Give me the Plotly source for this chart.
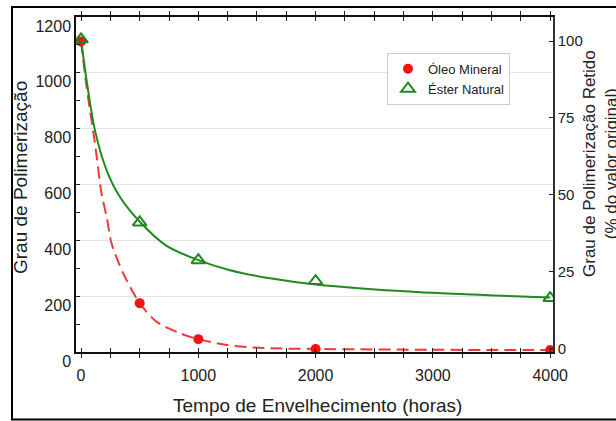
import plotly.graph_objects as go

# ---- data ----
hours = [0, 500, 1000, 2000, 4000]
oleo_mineral = [1112, 175, 46, 11, 7]
ester_natural = [1120, 464, 329, 254, 193]

# fitted curves as traced on the picture
oleo_curve_x = [0, 48, 119, 176, 219, 261, 361, 500, 645, 844, 1000, 1242, 1555, 2000, 3000, 4000]
oleo_curve_y = [1112, 948, 746, 565, 483, 388, 281, 175, 108, 67, 46, 25, 14, 11, 8, 7]
ester_curve_x = [0, 48, 119, 219, 332, 489, 730, 1000, 1270, 1611, 2000, 2862, 4000]
ester_curve_y = [1120, 971, 793, 650, 555, 472, 380, 329, 293, 264, 242, 215, 195]

x_ticks = [0, 250, 500, 750, 1000, 1250, 1500, 1750, 2000, 2250, 2500, 2750, 3000, 3250, 3500, 3750, 4000]
x_ticktext = ["0", "", "", "", "1000", "", "", "", "2000", "", "", "", "3000", "", "", "", "4000"]
y_ticks = [0, 200, 400, 600, 800, 1000, 1200]
y2_ticks = [0, 25, 50, 75, 100]

RED = "#f01414"
RED_LINE = "#ee3a3a"
GREEN = "#1f8a1f"
FONT = "Liberation Sans"
TXT = "#222222"

fig = go.Figure()
fig.add_trace(go.Scatter(x=oleo_curve_x, y=oleo_curve_y, mode="lines",
                         line=dict(color=RED_LINE, width=2, dash="12px,6px", shape="spline", smoothing=0.8),
                         showlegend=False, hoverinfo="skip"))
fig.add_trace(go.Scatter(x=ester_curve_x, y=ester_curve_y, mode="lines",
                         line=dict(color=GREEN, width=2, shape="spline", smoothing=0.8),
                         showlegend=False, hoverinfo="skip"))
fig.add_trace(go.Scatter(x=hours, y=oleo_mineral, mode="markers", name="Óleo Mineral",
                         marker=dict(color=RED, size=10, symbol="circle")))
fig.add_trace(go.Scatter(x=hours, y=ester_natural, mode="markers", name="Éster Natural",
                         marker=dict(color=GREEN, size=12, symbol="triangle-up-open",
                                     line=dict(color=GREEN, width=2))))
# invisible trace to activate right axis
fig.add_trace(go.Scatter(x=[hours[0]], y=[100], yaxis="y2", mode="markers",
                         marker=dict(opacity=0), showlegend=False, hoverinfo="skip"))

fig.update_layout(
    width=616, height=421,
    margin=dict(l=76, r=63, t=17, b=69, autoexpand=False),
    paper_bgcolor="white", plot_bgcolor="white",
    font=dict(family=FONT, color=TXT, size=16),
    xaxis=dict(range=[-43, 4024], tickvals=x_ticks, ticktext=x_ticktext,
               ticks="inside", ticklen=4, tickwidth=1.2, tickcolor="#222",
               showline=True, linecolor="#111", linewidth=1.5, mirror="allticks",
               showgrid=False, zeroline=False, tickfont=dict(size=16),
               ticklabelstandoff=8),
    yaxis=dict(range=[0, 1200], tickvals=y_ticks, ticks="inside", ticklen=4,
               tickwidth=1.2, tickcolor="#222",
               showline=True, linecolor="#111", linewidth=1.5,
               showgrid=True, gridcolor="#e4e4e4", gridwidth=1, zeroline=False,
               tickfont=dict(size=16), ticklabelshift=9,
               minor=dict(dtick=100, ticks="inside", ticklen=4, tickcolor="#222", showgrid=False)),
    yaxis2=dict(overlaying="y", side="right", range=[-1.0, 107.8], tickvals=y2_ticks,
                ticks="inside", ticklen=4, tickcolor="#222",
                showline=True, linecolor="#333", linewidth=1.5,
                showgrid=False, zeroline=False, tickfont=dict(size=15)),
    legend=dict(x=0.652, y=0.893, xanchor="left", yanchor="top",
                bgcolor="white", bordercolor="#cccccc", borderwidth=1,
                font=dict(family=FONT, size=13, color=TXT), itemwidth=30,
                tracegroupgap=0),
    showlegend=True,
)

fig.add_annotation(text="Tempo de Envelhecimento (horas)", xref="paper", yref="paper",
                   x=(317 - 76) / 477, y=(352 - 405) / 335, showarrow=False,
                   xanchor="center", yanchor="middle", font=dict(size=19))
fig.add_annotation(text="Grau de Polimerização", xref="paper", yref="paper",
                   x=(20 - 76) / 477, y=(352 - 178) / 335, showarrow=False, textangle=-90,
                   xanchor="center", yanchor="middle", font=dict(size=19))
fig.add_annotation(text="Grau de Polimerização Retido<br>(% do valor original)",
                   xref="paper", yref="paper",
                   x=(600 - 76) / 477, y=(352 - 164) / 335, showarrow=False, textangle=-90,
                   xanchor="center", yanchor="middle", font=dict(size=17))

# outer frame of the picture
fig.add_shape(type="rect", xref="paper", yref="paper",
              x0=(12 - 76) / 477, x1=(630 - 76) / 477,
              y0=(352 - 419.5) / 335, y1=(352 - 7) / 335,
              line=dict(color="black", width=2), fillcolor="rgba(0,0,0,0)", layer="above")

fig.write_html("out.html", config={"displayModeBar": False},
               post_script="document.body.style.margin='0';")
